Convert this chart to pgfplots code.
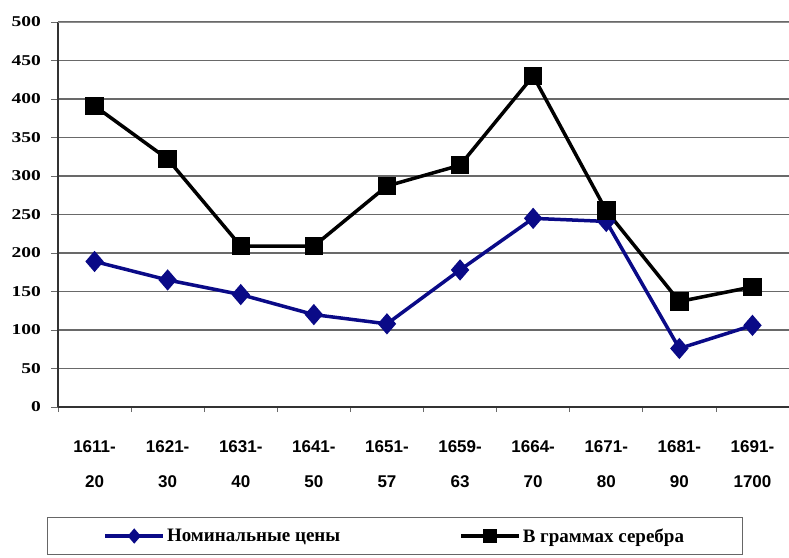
\documentclass[border=0pt]{standalone}
\usepackage{pgfplots}
\pgfplotsset{compat=1.18}
\usepackage{fontspec}
\setmainfont{Liberation Serif}
\newfontfamily\xfont{Liberation Sans}
\newfontfamily\yfont[FakeStretch=1.3]{Liberation Serif}
\definecolor{navyline}{RGB}{10,10,135}
\definecolor{gridgray}{RGB}{105,105,105}
\begin{document}
\begin{tikzpicture}
\useasboundingbox (0pt,0pt) rectangle (789pt,557pt);
\begin{axis}[
  at={(58pt,150pt)}, anchor=south west,
  width=731pt, height=385pt, scale only axis,
  xmin=-0.5, xmax=9.5, ymin=0, ymax=500,
  axis x line*=bottom, axis y line*=left,
  axis line style={line width=1.5pt, draw=black!80},
  ytick={0,50,...,500},
  ytick pos=left,
  ymajorgrids, grid style={gridgray, line width=1.2pt},
  xtick={0,...,9},
  xticklabels={{1611-\\20},{1621-\\30},{1631-\\40},{1641-\\50},{1651-\\57},{1659-\\63},{1664-\\70},{1671-\\80},{1681-\\90},{1691-\\1700}},
  minor xtick={-0.5,0.5,...,9.5},
  xtick style={draw=none},
  minor x tick style={draw=gridgray, line width=0.8pt},
  minor tick length=5pt,
  major tick length=7pt,
  y tick style={draw=gridgray, line width=0.8pt},
  tick align=outside,
  /pgf/number format/assume math mode=true,
  yticklabel style={font=\yfont\bfseries\fontsize{15}{15}\selectfont, anchor=east, inner xsep=0pt, xshift=-10pt},
  xticklabel style={font=\xfont\bfseries\fontsize{17}{35}\selectfont, align=center, anchor=north, inner sep=0pt, yshift=-26pt},
  legend columns=2,
  legend style={at={(-0.01505,-0.2857)}, anchor=north west, draw=black!60, line width=1pt,
    font=\bfseries\fontsize{19}{20}\selectfont, inner xsep=56pt, inner ysep=9pt,
    /tikz/every even column/.append style={column sep=117pt}},
  legend image code/.code={\draw[mark repeat=2,mark phase=2,#1] plot[mark size=5pt] coordinates {(0pt,0pt) (29pt,0pt) (58pt,0pt)};},
]
\addplot[navyline, line width=3.5pt, mark=diamond*, mark size=8pt, mark options={xscale=1.15}] coordinates {
  (0,189) (1,165) (2,146) (3,120) (4,108) (5,178) (6,245) (7,241) (8,76) (9,106)};
\addlegendentry{Номинальные цены}
\addplot[black, line width=3.5pt, mark=square*, mark size=7.5pt] coordinates {
  (0,391) (1,322) (2,209) (3,209) (4,287) (5,314) (6,430) (7,255) (8,137) (9,156)};
\addlegendentry{В граммах серебра}
\draw[black!45, line width=2.5pt] (axis cs:-0.5,500) -- (axis cs:9.5,500);
\end{axis}
\end{tikzpicture}
\end{document}
